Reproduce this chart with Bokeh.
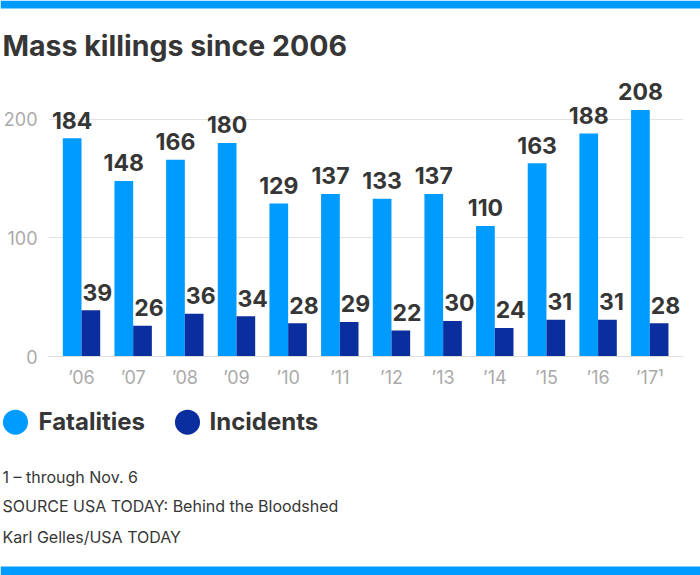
import numpy as np
from bokeh.plotting import figure
from bokeh.layouts import column
from bokeh.models import FixedTicker, Range1d, ColumnDataSource
from bokeh.core.properties import value
from bokeh.embed import file_html
from bokeh.resources import INLINE

# ---- data ----
year_labels = ["\u201906", "\u201907", "\u201908", "\u201909", "\u201910", "\u201911",
               "\u201912", "\u201913", "\u201914", "\u201915", "\u201916", "\u201917\u00b9"]
fatalities = [184, 148, 166, 180, 129, 137, 133, 137, 110, 163, 188, 208]
incidents = [39, 26, 36, 34, 28, 29, 22, 30, 24, 31, 31, 28]
y_ticks = [0, 100, 200]
series_names = ["Fatalities", "Incidents"]
title_text = "Mass killings since 2006"
notes = ["1 \u2013 through Nov. 6",
         "SOURCE USA TODAY: Behind the Bloodshed",
         "Karl Gelles/USA TODAY"]

LIGHT = "#009bff"
DARK = "#0b2e9e"
TEXT = "#363636"
GRAY = "#aaaaaa"
FONT = "Inter"
BASE_SHIFT = 0.36  # svg text baseline correction (fraction of font size)

W = 700
TOP_H, MAIN_H, BOT_H = 70, 330, 175


def blank_fig(h):
    f = figure(width=W, height=h, output_backend="svg", toolbar_location=None,
               x_range=Range1d(0, W), y_range=Range1d(h, 0),
               x_axis_type=None, y_axis_type=None,
               min_border=0, min_border_left=0, min_border_right=0,
               min_border_top=0, min_border_bottom=0, frame_align=False)
    f.outline_line_color = None
    f.xgrid.visible = False
    f.ygrid.visible = False
    f.background_fill_color = "white"
    f.border_fill_color = "white"
    return f


def txt(f, s, x, y, size, bold=False, color=TEXT):
    f.text(x=[x], y=[y - BASE_SHIFT * size], text=[s], text_font=value(FONT),
           text_font_size=f"{size}px",
           text_font_style="bold" if bold else "normal", text_color=color,
           text_baseline="alphabetic", text_align="left")


# ---------- header ----------
top = blank_fig(TOP_H)
top.quad(left=[0], right=[W], top=[0], bottom=[8], fill_color=LIGHT, line_color=None)
txt(top, title_text, 2, 55, 28.5, bold=True)

# ---------- main chart ----------
p = figure(width=W, height=MAIN_H, output_backend="svg", toolbar_location=None,
           x_range=Range1d(-0.639, 11.653), y_range=Range1d(0, 237),
           min_border_left=48, min_border_right=17,
           min_border_top=5, min_border_bottom=44, frame_align=False)
p.outline_line_color = None
p.background_fill_color = "white"
p.border_fill_color = "white"

xs = np.arange(len(fatalities))
bw = 0.362
LBL = 23
lbl_off = -(8.5 + 0.42 * LBL)

src = ColumnDataSource(dict(
    xf=xs - bw / 2, xi=xs + bw / 2, xc=xs,
    fat=fatalities, inc=incidents,
    fat_t=[str(v) for v in fatalities], inc_t=[str(v) for v in incidents],
))

p.vbar(x="xf", top="fat", width=bw, source=src, fill_color=LIGHT, line_color=None)
p.vbar(x="xi", top="inc", width=bw, source=src, fill_color=DARK, line_color=None)

p.text(x="xf", y="fat", text="fat_t", source=src, text_align="center",
       text_baseline="alphabetic", y_offset=lbl_off, text_font=value(FONT),
       text_font_style="bold", text_font_size=f"{LBL}px", text_color=TEXT)
p.text(x="xc", y="inc", text="inc_t", source=src, text_align="left",
       text_baseline="alphabetic", y_offset=lbl_off, x_offset=1, text_font=value(FONT),
       text_font_style="bold", text_font_size=f"{LBL}px", text_color=TEXT)

p.xgrid.visible = False
p.ygrid.ticker = FixedTicker(ticks=[t for t in y_ticks if t > 0])
p.ygrid.grid_line_color = "#e2e2e2"

for ax in (p.xaxis, p.yaxis):
    ax.major_tick_line_color = None
    ax.minor_tick_line_color = None
    ax.major_tick_out = 0
    ax.major_tick_in = 0
    ax.minor_tick_out = 0
    ax.minor_tick_in = 0
    ax.major_label_text_font = FONT
    ax.major_label_text_font_size = "18px"
    ax.major_label_text_color = GRAY

p.yaxis.ticker = FixedTicker(ticks=y_ticks)
p.yaxis.axis_line_color = None
p.yaxis.major_label_standoff = 11

p.xaxis.ticker = FixedTicker(ticks=list(xs))
p.xaxis.major_label_overrides = {int(i): lab for i, lab in zip(xs, year_labels)}
p.xaxis.axis_line_color = "#dddddd"
p.xaxis.major_label_standoff = 10

# ---------- footer: legend + notes ----------
bot = blank_fig(BOT_H)
bot.scatter(x=[15, 187], y=[21.7, 21.7], size=25, marker="circle",
            fill_color=[LIGHT, DARK], line_color=None)
txt(bot, series_names[0], 38, 30, 24, bold=True)
txt(bot, series_names[1], 209, 30, 24, bold=True)
for s, y in zip(notes, [82, 111, 142]):
    txt(bot, s, 2, y, 16)
bot.quad(left=[0], right=[W], top=[166], bottom=[BOT_H], fill_color=LIGHT, line_color=None)

layout = column(top, p, bot, spacing=0)
open("out.html", "w").write(file_html(layout, INLINE))
